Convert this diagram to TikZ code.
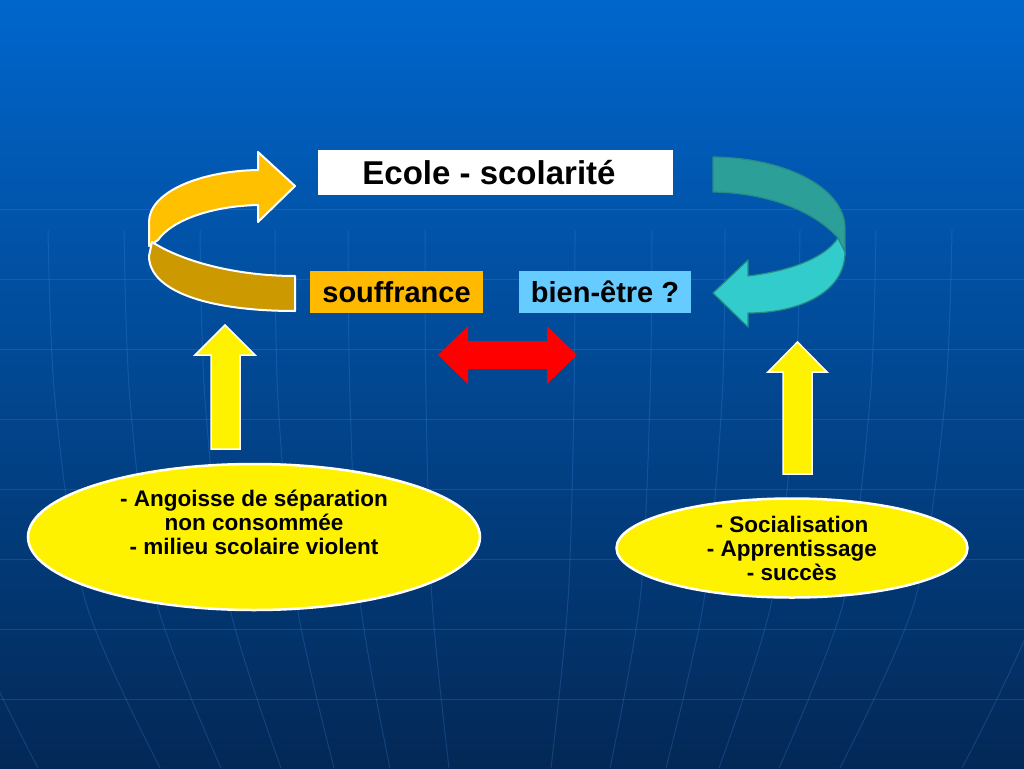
\documentclass[tikz,border=0pt]{standalone}
\usepackage{fontspec}
\setmainfont{Liberation Sans}
\usetikzlibrary{shapes.geometric}
\definecolor{bgtop}{RGB}{0,102,204}
\definecolor{bgmid}{RGB}{0,78,160}
\definecolor{bgbot}{RGB}{3,40,86}
\definecolor{gridc}{RGB}{80,160,255}
\definecolor{orlight}{RGB}{255,192,0}
\definecolor{ordark}{RGB}{204,153,0}
\definecolor{boxor}{RGB}{255,186,0}
\definecolor{boxbl}{RGB}{102,204,255}
\definecolor{tldark}{RGB}{44,160,152}
\definecolor{tllight}{RGB}{51,204,204}
\definecolor{tledge}{RGB}{38,140,132}
\begin{document}
\begin{tikzpicture}[x=1pt,y=-1pt,
  gridline/.style={draw=gridc, draw opacity=0.2, line width=1pt},
  labelbox/.style={rectangle, inner sep=0pt, text=black, font=\bfseries\fontsize{29}{34}\selectfont},
  yell/.style={ellipse, draw=white, line width=2.5pt, fill=yellow, inner sep=0pt},
  etext/.style={align=center, text=black, inner sep=0pt, font=\bfseries\fontsize{22.5}{24}\selectfont},
  yarrow/.style={fill=yellow, draw=white, line width=1.5pt, line join=miter},
  orpart/.style={draw=white, line width=2pt, line join=round},
  tlpart/.style={draw=tledge, line width=1.2pt, line join=round}]
\useasboundingbox (0,0) rectangle (1024,768);
\shade[top color=bgtop, middle color=bgmid, bottom color=bgbot] (0,0) rectangle (1024,768);
% grid (globe)
\foreach \yy in {209,279,349,419,489,559,629,699}
  \draw[gridline] (0,\yy) -- (1024,\yy);
\foreach \a/\b/\c/\d in {75/74/68/51,152/150/140/110,225/222/204/166,300/295/272/219,376/370/344/279,452/445/415/340,600/580/540/462}{
  \draw[gridline] plot[smooth] coordinates {(500-\a,230) (500-\b,400) (500-\c,600) (500-\d,768)};
  \draw[gridline] plot[smooth] coordinates {(500+\a,230) (500+\b,400) (500+\c,600) (500+\d,768)};
}
% labels
\node[labelbox, fill=white, minimum width=355pt, minimum height=45pt, font=\bfseries\fontsize{33}{38}\selectfont] (ecole) at (495.5,172.5) {Ecole - scolarité\hspace*{13pt}};
\node[labelbox, fill=boxor, minimum width=173pt, minimum height=42pt] (souf) at (396.5,292) {souffrance};
\node[labelbox, fill=boxbl, minimum width=172pt, minimum height=42pt] (bien) at (605,292) {bien-être ?};
% orange curved arrow
\path[orpart, fill=orlight] (258,170) -- (258,152) -- (295,186) -- (258,222) -- (258,205)
  .. controls (212,206) and (172,220) .. (158,240) -- (149,246) -- (149,222)
  .. controls (149,192) and (200,171) .. cycle;
\path[orpart, fill=ordark] (152,242) .. controls (185,263) and (240,276) .. (295,276) -- (295,311)
  .. controls (205,311) and (149,290) .. (149,256) -- cycle;
% teal curved arrow
\path[tlpart, fill=tldark] (713,157) .. controls (790,158) and (845,190) .. (845,228) -- (845,256)
  -- (838,238) .. controls (815,212) and (770,193) .. (713,192) -- cycle;
\path[tlpart, fill=tllight] (845,252) .. controls (845,292) and (800,313) .. (748,313) -- (748,327)
  -- (713,293) -- (748,260) -- (748,276) .. controls (790,271) and (825,258) .. (838,238) -- cycle;
% red double arrow
\fill[red] (438,355) -- (468,326) -- (468,341) -- (547,341) -- (547,326) -- (577,355)
  -- (547,384) -- (547,369) -- (468,369) -- (468,384) -- cycle;
% yellow up arrows
\path[yarrow] (211,449) -- (211,355) -- (195,355) -- (225,325) -- (255,355) -- (240,355) -- (240,449) -- cycle;
\path[yarrow] (783,474) -- (783,372) -- (768,372) -- (797.5,342) -- (827,372) -- (812,372) -- (812,474) -- cycle;
% ellipses
\node[yell, minimum width=452pt, minimum height=146pt] (eL) at (254,537) {};
\node[etext] (tL) at (254,522) {- Angoisse de séparation\\non consommée\\- milieu scolaire violent};
\node[yell, minimum width=351pt, minimum height=99pt] (eR) at (792,548) {};
\node[etext] (tR) at (eR.center) {- Socialisation\\- Apprentissage\\- succès};
\end{tikzpicture}
\end{document}
